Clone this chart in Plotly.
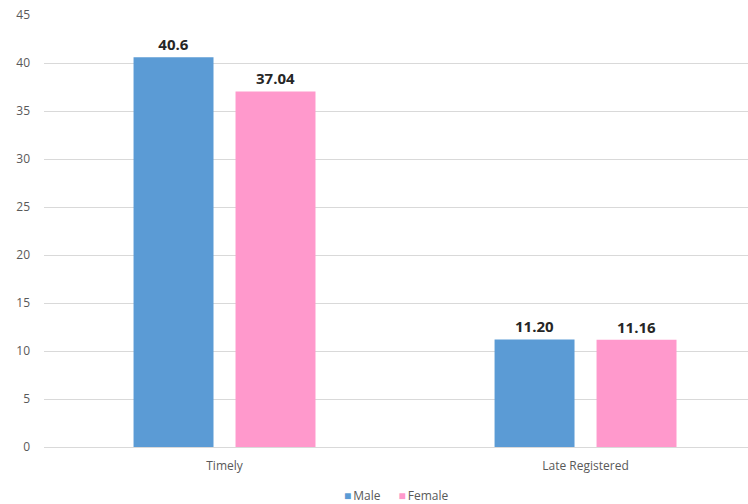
import plotly.graph_objects as go

categories = ["Timely", "Late Registered"]
male = [40.6, 11.20]
female = [37.04, 11.16]
male_labels = ["40.6", "11.20"]
female_labels = ["37.04", "11.16"]
male_color = "#5B9BD5"
female_color = "#FF99CC"

fig = go.Figure()
fig.add_trace(go.Bar(name="Male", x=categories, y=male, text=male_labels,
                     marker=dict(color=male_color, line=dict(width=0)),
                     textposition="outside", cliponaxis=False,
                     textfont=dict(size=15, color="#262626", family="Open Sans", weight="bold")))
fig.add_trace(go.Bar(name="Female", x=categories, y=female, text=female_labels,
                     marker=dict(color=female_color, line=dict(width=0)),
                     textposition="outside", cliponaxis=False,
                     textfont=dict(size=15, color="#262626", family="Open Sans", weight="bold")))

fig.update_layout(
    width=748, height=504,
    margin=dict(l=44, r=0, t=15, b=57),
    barmode="group", bargap=0.435, bargroupgap=0.216,
    showlegend=False,
    plot_bgcolor="white", paper_bgcolor="white",
    font=dict(family="Open Sans", size=12, color="#595959"),
    xaxis=dict(range=[-0.5, 1.45], showline=False, showgrid=False, ticks="",
               automargin=False, ticklabelstandoff=10,
               tickfont=dict(size=12, color="#595959")),
    yaxis=dict(range=[0, 45], dtick=5, showgrid=True, gridcolor="#D9D9D9", gridwidth=1,
               zeroline=True, zerolinecolor="#D9D9D9", zerolinewidth=1,
               automargin=False,
               showline=False, ticks="", tickfont=dict(size=12, color="#595959"),
               ticklabelstandoff=13),
    annotations=[dict(
        xref="paper", yref="paper", x=0.5, y=-0.112, xanchor="center", yanchor="middle",
        showarrow=False, font=dict(size=12, color="#595959", family="Open Sans"),
        text=(f"<span style='color:{male_color}'>■</span>\u2009Male\u2003\u2002"
              f"<span style='color:{female_color}'>■</span>\u2009Female"),
    )],
)
fig.write_html("out.html", config={"displayModeBar": False},
               post_script="document.body.style.margin='0';document.body.style.overflow='hidden';")
